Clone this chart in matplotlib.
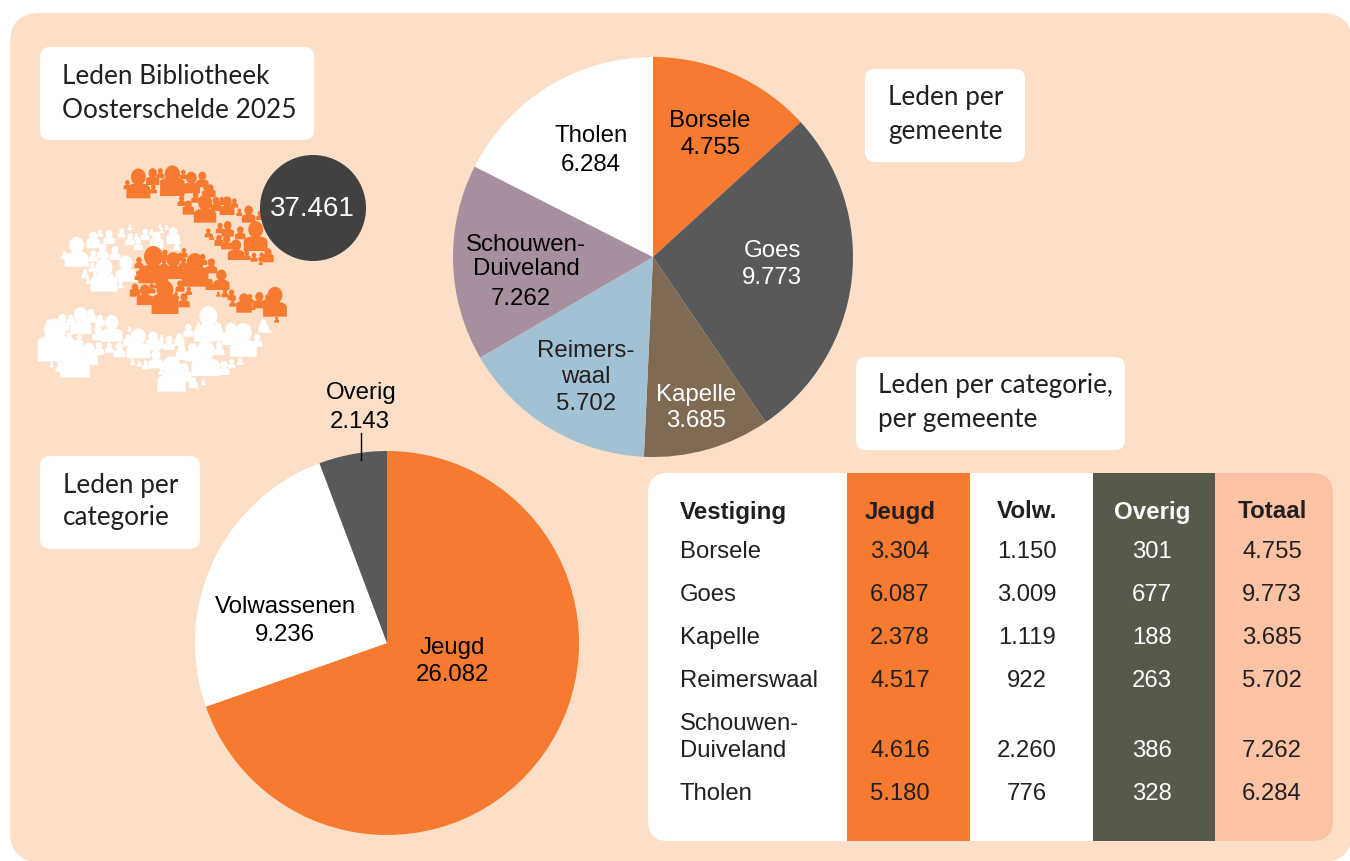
import matplotlib
matplotlib.use("Agg")
import matplotlib.pyplot as plt
from matplotlib.patches import Circle, Ellipse, FancyBboxPatch, PathPatch, Rectangle
from matplotlib.path import Path

W, H = 1350, 861

# data
gemeenten = ["Borsele", "Goes", "Kapelle", "Reimerswaal", "Schouwen-\nDuiveland", "Tholen"]
jeugd = [3304, 6087, 2378, 4517, 4616, 5180]
volw = [1150, 3009, 1119, 922, 2260, 776]
overig = [301, 677, 188, 263, 386, 328]
totaal = [4755, 9773, 3685, 5702, 7262, 6284]
# the slices in the picture are not quite in proportion to the labels, so these are read off it (degrees)
slice_degrees = [47.6, 98.1, 36.9, 57.2, 57.1, 63.1]
pie_gemeente_colors = ["#F67B31", "#58595B", "#7F6A53", "#A2C2D3", "#A6909F", "#FFFFFF"]

categorie_names = ["Jeugd", "Volwassenen", "Overig"]
categorie_values = [26082, 9236, 2143]
pie_categorie_colors = ["#F67B31", "#FFFFFF", "#58595B"]

leden_totaal = 37461

people_white = [
    (140,380,80,0),(103,358,22,0),(190,325,45,1),(237,312,38,0),(210,290,18,0),(275,293,25,0),
    (300,315,32,0),(325,330,30,0),(345,300,30,0),(380,325,45,1),(430,312,45,1),(320,300,18,0),
    (365,285,16,0),(395,280,14,0),(440,330,22,0),(218,355,40,0),(255,360,38,0),(190,365,30,0),
    (222,455,90,0),(288,425,70,0),(187,395,24,0),(165,415,25,0),(195,420,22,0),(245,420,18,0),
    (175,432,16,0),(272,445,18,0),(300,270,14,0),(410,270,14,0),(390,265,12,0),(430,285,14,0),
    (75,665,115,1),(57,572,30,1),(97,572,45,0),(123,555,28,1),(152,582,72,0),(183,548,38,1),
    (210,560,32,1),(245,605,72,0),(118,610,30,0),(148,615,28,0),(204,600,38,0),(90,697,30,0),
    (135,712,100,0),(177,675,60,1),(207,645,35,0),(238,638,28,0),(268,652,40,0),(295,618,32,1),
    (298,575,14,0),(325,655,80,0),(370,630,50,1),(395,625,24,0),(417,630,38,0),(448,618,35,1),
    (378,685,50,0),(425,755,95,0),(308,675,16,0),(328,680,16,0),(347,688,24,0),(395,705,24,0),
    (65,682,14,0),(120,630,16,0),(462,725,50,1),(490,745,30,1),(455,660,40,1),(488,665,50,1),
    (475,590,35,0),(505,565,16,0),(535,605,95,0),(568,570,18,0),(603,615,60,1),(640,650,90,0),
    (527,708,95,0),(568,645,35,0),(582,705,38,0),(605,685,25,0),(630,675,20,0),(682,620,34,0),
    (701,578,35,1),(720,580,10,0),(655,620,16,0),(395,600,14,0),(520,735,15,0),(560,560,14,0),
]
people_orange = [
    (325,175,80,0),(427,168,82,1),(368,135,45,0),(391,115,27,0),(292,148,25,0),(370,160,24,0),
    (460,117,25,0),(484,160,58,0),(517,142,42,0),(527,165,25,0),(455,198,28,0),(497,188,30,0),
    (475,224,38,1),(525,248,75,0),(541,172,35,1),(518,200,20,0),(558,213,38,0),(575,195,22,0),
    (591,225,50,0),(613,203,25,0),(628,228,20,0),(656,248,46,0),(690,240,25,0),(535,292,24,0),
    (570,280,28,0),(593,290,42,0),(567,318,30,1),(590,328,38,0),(631,298,35,0),(618,360,55,0),
    (677,333,80,0),(650,360,26,0),(672,365,24,0),(695,362,22,0),(714,367,38,1),(692,375,14,0),
    (600,352,14,0),(545,300,16,0),
    (370,430,100,0),(430,417,72,0),(495,440,90,1),(405,360,28,0),(462,352,25,0),(460,385,30,0),
    (402,385,25,0),(327,385,30,0),(325,420,25,0),(315,470,35,1),(345,495,55,0),(365,460,26,0),
    (382,445,22,0),(405,522,90,1),(450,455,30,0),(476,465,22,0),(462,502,38,0),(438,478,20,0),
    (450,360,20,0),(518,375,30,0),(544,400,40,0),(574,450,55,0),(540,450,30,1),(565,470,14,0),
    (585,472,24,0),(605,480,28,0),(608,500,22,0),(642,518,52,1),(688,505,44,0),(660,490,25,0),
    (735,530,80,0),(712,490,24,0),(740,548,16,0),(670,510,14,0),
]

TXT = "#231F20"
ARIAL = "Liberation Sans"
HEAD = "Lato"


def nl(n):
    return f"{n:,}".replace(",", ".")


def pixel_axes(zorder):
    a = fig.add_axes([0, 0, 1, 1], zorder=zorder)
    a.set_xlim(0, W)
    a.set_ylim(H, 0)
    a.axis("off")
    return a


def pie_at(cx, cy, r, values, colors):
    a = fig.add_axes([(cx - r) / W, 1 - (cy + r) / H, 2 * r / W, 2 * r / H], zorder=2)
    a.pie(values, colors=colors, startangle=90, counterclock=False, radius=1)
    a.set_xlim(-1, 1)
    a.set_ylim(-1, 1)
    a.axis("off")


def white_box(x0, y0, x1, y1):
    ax.add_patch(FancyBboxPatch((x0 + 10, y0 + 10), x1 - x0 - 20, y1 - y0 - 20,
                                boxstyle="round,pad=10,rounding_size=10", fc="white", ec="none"))


def person(x, bottom, h, hair, color):
    x = x / 3 + 30
    bottom = bottom / 3 + 140
    h = h / 3 * 1.12
    # shoulders, a bell shape for the long haired ones
    w = 0.8 * h
    shoulder = 0.5 if hair else 0.3
    top_y = 0.62 if hair else 0.5
    verts = [(x - w / 2, bottom), (x - w / 2, bottom - shoulder * h), (x - w / 2, bottom - top_y * h),
             (x, bottom - top_y * h), (x + w / 2, bottom - top_y * h), (x + w / 2, bottom - shoulder * h),
             (x + w / 2, bottom), (x - w / 2, bottom)]
    if hair:
        verts[2] = (x - w * 0.3, bottom - top_y * h)
        verts[4] = (x + w * 0.3, bottom - top_y * h)
    codes = [Path.MOVETO, Path.LINETO, Path.CURVE3, Path.CURVE3, Path.CURVE3, Path.CURVE3,
             Path.LINETO, Path.CLOSEPOLY]
    ax.add_patch(PathPatch(Path(verts, codes), fc=color, ec="none"))
    ax.add_patch(Ellipse((x, bottom - 0.72 * h), 0.5 * h, 0.56 * h, fc=color, ec="none"))


fig = plt.figure(figsize=(W / 100, H / 100), dpi=100, facecolor="white")
ax = pixel_axes(1)

# background panel
ax.add_patch(FancyBboxPatch((40, 43), 1282, 789, boxstyle="round,pad=30,rounding_size=30",
                            fc="#FDDFC7", ec="none", clip_on=False))

# heading boxes
white_box(40, 47, 314, 140)
white_box(865, 69, 1025, 162)
white_box(856, 357, 1125, 450)
white_box(40, 456, 200, 549)
for x, y, s in [(62, 77, "Leden Bibliotheek"), (62, 111, "Oosterschelde 2025"),
                (888, 98, "Leden per"), (888, 132, "gemeente"),
                (878, 386, "Leden per categorie,"), (878, 419, "per gemeente"),
                (63, 485, "Leden per"), (63, 518, "categorie")]:
    ax.text(x, y, s, family=HEAD, fontsize=18.8, color=TXT, ha="left", va="center")

# people
for p in people_white:
    person(*p, "white")
for p in people_orange:
    person(*p, "#F67B31")

# table
table_box = FancyBboxPatch((668, 493), 645, 328, boxstyle="round,pad=20,rounding_size=20",
                           fc="white", ec="none")
ax.add_patch(table_box)
for x0, x1, c in [(847, 970, "#F67B31"), (1093, 1215, "#575A4A"), (1215, 1340, "#FBC3A4")]:
    col = Rectangle((x0, 473), x1 - x0, 368, fc=c, ec="none")
    ax.add_patch(col)
    col.set_clip_path(table_box)

col_x = [900, 1027, 1152, 1272]
row_y = [552, 595, 638, 681, 751, 794]
ax.text(680, 512, "Vestiging", family=ARIAL, fontsize=17.4, fontweight="bold", color=TXT, ha="left", va="center")
for x, s, c in zip(col_x, ["Jeugd", "Volw.", "Overig", "Totaal"], [TXT, TXT, "white", TXT]):
    ax.text(x, 512, s, family=ARIAL, fontsize=17.4, fontweight="bold", color=c, ha="center", va="center")
for i, y in enumerate(row_y):
    if "\n" in gemeenten[i]:
        top, bottom = gemeenten[i].split("\n")
        ax.text(680, y - 27, top, family=ARIAL, fontsize=17.2, color=TXT, ha="left", va="center")
        ax.text(680, y, bottom, family=ARIAL, fontsize=17.2, color=TXT, ha="left", va="center")
    else:
        ax.text(680, y, gemeenten[i], family=ARIAL, fontsize=17.2, color=TXT, ha="left", va="center")
    for x, vals, c in zip(col_x, [jeugd, volw, overig, totaal], [TXT, TXT, "white", TXT]):
        ax.text(x, y, nl(vals[i]), family=ARIAL, fontsize=17.2, color=c, ha="center", va="center")

# pies
pie_at(653, 257, 200, slice_degrees, pie_gemeente_colors)
pie_at(387, 643, 192, categorie_values, pie_categorie_colors)

# everything on top of the pies
top = pixel_axes(3)
top.add_patch(Circle((313, 208), 53, fc="#414141", ec="none"))
top.text(312, 209, nl(leden_totaal), family=ARIAL, fontsize=20, color="white", ha="center", va="center")
top.plot([361, 361], [433, 460], color="black", lw=1)


def label(x, y, s, c="black"):
    top.text(x, y + 2, s, family=ARIAL, fontsize=17.3, color=c, ha="center", va="center")


label(710, 119, "Borsele")
label(711, 146, nl(totaal[0]))
label(772, 249, "Goes", "white")
label(772, 276, nl(totaal[1]), "white")
label(696, 393, "Kapelle", "white")
label(696, 419, nl(totaal[2]), "white")
label(586, 349, "Reimers-", TXT)
label(586, 375, "waal", TXT)
label(586, 402, nl(totaal[3]), TXT)
label(526, 243, "Schouwen-")
label(526, 267, "Duiveland")
label(521, 297, nl(totaal[4]))
label(591, 134, "Tholen")
label(591, 163, nl(totaal[5]))

label(361, 391, categorie_names[2])
label(359.5, 420, nl(categorie_values[2]))
label(285, 605, categorie_names[1])
label(285, 633, nl(categorie_values[1]))
label(452, 646, categorie_names[0])
label(452, 673, nl(categorie_values[0]))

fig.savefig("out.png", dpi=100, facecolor="white")
